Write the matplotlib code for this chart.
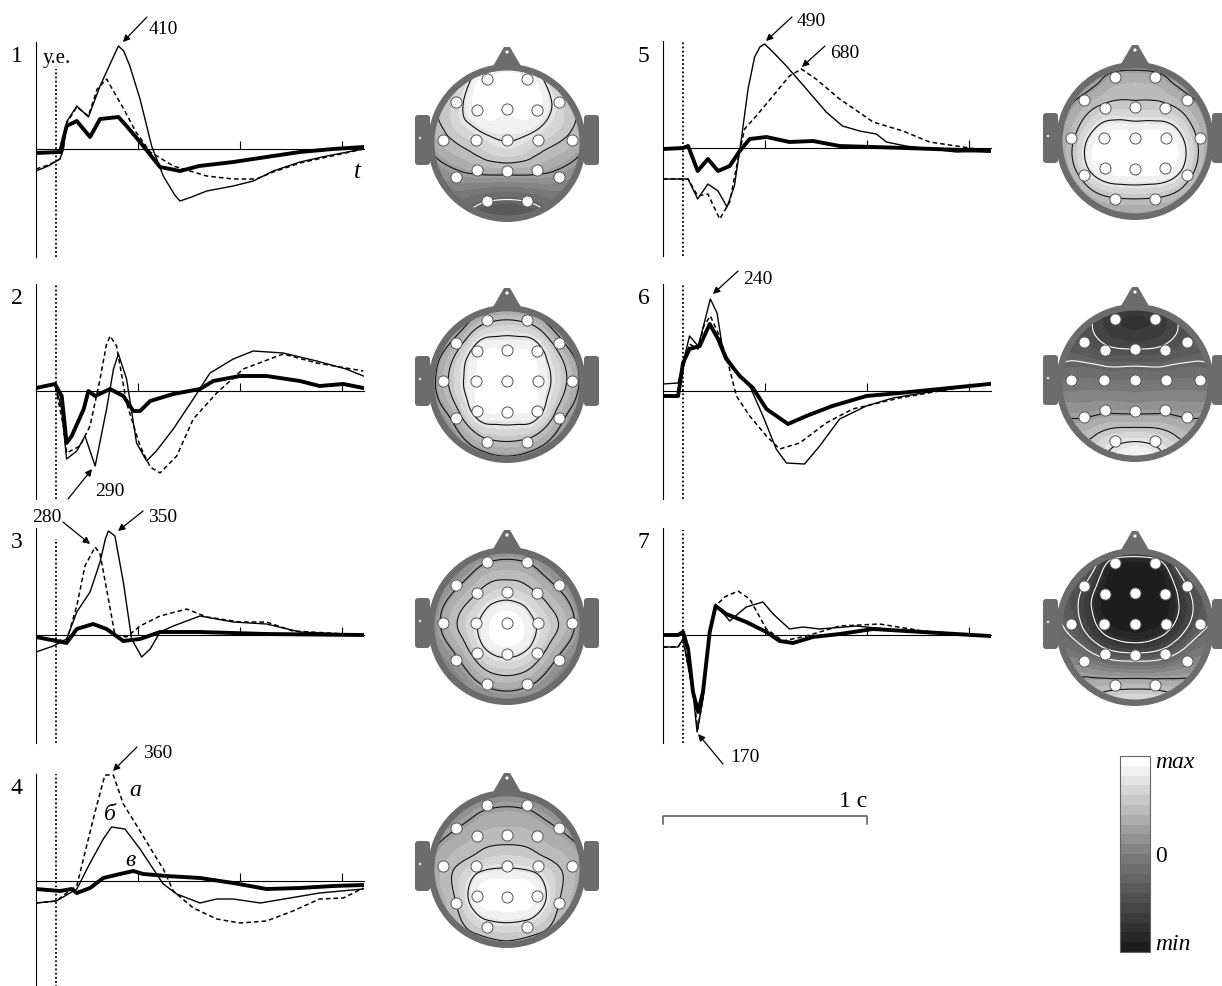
import numpy as np
import matplotlib
matplotlib.use("Agg")
import matplotlib.pyplot as plt
import matplotlib.tri as mtri
from matplotlib.colors import LinearSegmentedColormap
from matplotlib.cm import ScalarMappable
from matplotlib.colors import Normalize
from matplotlib.patches import Circle, FancyBboxPatch, Polygon

plt.rcParams['font.family'] = ['Liberation Serif', 'DejaVu Serif']

# ---- ERP curves: (time, s ; amplitude, arbitrary units) ----
p1_solid = [(0, -2.2), (0.06, -1.7), (0.118, -1.0), (0.134, 0), (0.15, 2.7), (0.2, 4.3), (0.257, 3.2),
            (0.314, 6.3), (0.37, 8.8), (0.404, 10.3), (0.43, 9.8), (0.46, 8.3), (0.51, 5.0), (0.567, 0.3),
            (0.624, -2.7), (0.68, -4.6), (0.706, -5.2), (0.763, -4.8), (0.837, -4.2), (0.967, -3.7),
            (1.065, -3.2), (1.163, -2.2), (1.294, -1.3), (1.425, -0.7), (1.605, 0)]
p1_dashed = [(0, -2.0), (0.06, -1.6), (0.118, -1.0), (0.134, 0), (0.15, 2.6), (0.2, 4.2), (0.257, 3.3),
             (0.3, 6.0), (0.346, 7.0), (0.43, 4.0), (0.49, 1.7), (0.56, -0.3), (0.673, -1.7),
             (0.837, -2.7), (0.967, -3.0), (1.08, -3.0), (1.163, -2.3), (1.294, -1.4), (1.45, -0.7),
             (1.605, 0)]
p1_thick = [(0, -0.4), (0.118, -0.3), (0.15, 2.3), (0.2, 2.8), (0.265, 1.2), (0.314, 3.0), (0.404, 3.2),
            (0.444, 2.3), (0.51, 0.7), (0.608, -1.8), (0.706, -2.2), (0.8, -1.7), (0.967, -1.3),
            (1.13, -0.8), (1.294, -0.3), (1.457, 0), (1.605, 0.2)]

p2_solid = [(0, 0.3), (0.093, 0.7), (0.126, -1.8), (0.15, -6.8), (0.2, -6.0), (0.24, -4.5), (0.29, -7.5),
            (0.346, -1.8), (0.38, 2.2), (0.404, 3.7), (0.444, 1.2), (0.493, -5.2), (0.542, -7.0),
            (0.59, -6.0), (0.673, -3.8), (0.771, -0.8), (0.853, 1.8), (0.967, 3.2), (1.065, 4.0),
            (1.212, 3.8), (1.376, 3.0), (1.52, 2.2), (1.605, 1.5)]
p2_dashed = [(0, 0.3), (0.093, 0.7), (0.134, -3.5), (0.15, -6.2), (0.216, -5.5), (0.265, -3.5),
             (0.314, 1.2), (0.345, 4.6), (0.363, 5.5), (0.395, 4.5), (0.444, -1.2), (0.51, -5.5),
             (0.56, -7.6), (0.608, -8.2), (0.69, -6.5), (0.771, -2.8), (0.886, -0.2), (1.016, 2.2),
             (1.212, 3.7), (1.376, 2.8), (1.52, 2.3), (1.605, 2.0)]
p2_thick = [(0, 0.3), (0.093, 0.7), (0.126, -0.5), (0.15, -5.2), (0.175, -4.5), (0.234, -1.8), (0.257, 0),
            (0.29, -0.5), (0.363, 0.2), (0.428, -0.5), (0.477, -2.0), (0.51, -2.0), (0.56, -1.0),
            (0.673, -0.3), (0.804, 0.2), (0.869, 1.0), (1.0, 1.5), (1.13, 1.5), (1.294, 1.0),
            (1.39, 0.5), (1.507, 0.7), (1.605, 0.3)]

p3_solid = [(0, -1.7), (0.085, -1.1), (0.15, -0.4), (0.2, 2.3), (0.265, 4.3), (0.314, 7.3), (0.34, 9.6),
            (0.355, 10.4), (0.387, 9.9), (0.428, 5.3), (0.469, -0.4), (0.518, -2.2), (0.56, -1.4),
            (0.608, 0.3), (0.673, 0.9), (0.804, 1.9), (0.967, 1.3), (1.13, 1.1), (1.294, 0.3),
            (1.605, 0)]
p3_dashed = [(0, -0.2), (0.15, -0.6), (0.2, 2.9), (0.24, 6.9), (0.29, 8.8), (0.314, 8.1), (0.355, 3.6),
             (0.387, 0), (0.444, -0.2), (0.51, 0.9), (0.608, 1.9), (0.739, 2.6), (0.837, 1.8),
             (1.0, 1.3), (1.13, 1.3), (1.26, 0.4), (1.605, 0)]
p3_thick = [(0, -0.2), (0.15, -0.8), (0.2, 0.6), (0.28, 1.1), (0.346, 0.6), (0.428, -0.6), (0.51, -0.4),
            (0.608, 0.3), (0.804, 0.3), (1.13, 0.1), (1.605, 0)]

p4_dashed = [(0, -2.2), (0.1, -2.0), (0.15, -1.2), (0.2, -0.5), (0.248, 3.5), (0.297, 7.5), (0.338, 10.6),
             (0.379, 10.6), (0.428, 7.7), (0.51, 5.0), (0.575, 2.8), (0.624, 1.2), (0.673, -1.0),
             (0.771, -2.7), (0.886, -3.8), (1.0, -4.2), (1.13, -4.0), (1.26, -3.0), (1.39, -1.8),
             (1.507, -1.7), (1.605, -0.7)]
p4_solid = [(0, -2.2), (0.1, -2.0), (0.2, -0.8), (0.265, 1.8), (0.33, 4.2), (0.37, 5.4), (0.436, 5.2),
            (0.51, 3.2), (0.575, 1.2), (0.624, -0.3), (0.69, -1.3), (0.804, -2.2), (0.886, -1.8),
            (0.967, -1.8), (1.1, -2.2), (1.245, -1.7), (1.39, -1.2), (1.605, -0.8)]
p4_thick = [(0, -0.8), (0.118, -1.0), (0.175, -0.8), (0.2, -1.2), (0.265, -0.7), (0.33, 0.3), (0.412, 0.7),
            (0.477, 1.0), (0.526, 0.7), (0.64, 0.5), (0.804, 0.3), (0.967, -0.2), (1.13, -0.8),
            (1.294, -0.7), (1.457, -0.5), (1.605, -0.4)]

p5_solid = [(0, -3.1), (0.123, -3.1), (0.17, -5.1), (0.22, -3.6), (0.27, -4.3), (0.314, -5.9), (0.35, -3.8),
            (0.384, 0.9), (0.417, 5.9), (0.449, 9.1), (0.475, 10.1), (0.498, 10.4), (0.539, 9.6),
            (0.605, 8.2), (0.703, 5.9), (0.8, 3.6), (0.88, 2.2), (0.964, 1.7), (1.046, 1.4),
            (1.095, 0.6), (1.19, 0.2), (1.438, -0.4), (1.6, -0.3)]
p5_dashed = [(0, -3.1), (0.123, -3.1), (0.17, -4.8), (0.22, -4.6), (0.278, -7.1), (0.327, -5.4),
             (0.368, -1.1), (0.4, 1.9), (0.457, 3.2), (0.539, 5.2), (0.62, 7.2), (0.678, 7.9),
             (0.75, 6.9), (0.866, 4.9), (1.03, 2.6), (1.176, 1.7), (1.307, 0.6), (1.438, 0.2),
             (1.6, -0.3)]
p5_thick = [(0, -0.1), (0.098, 0), (0.123, 0.2), (0.17, -2.3), (0.22, -1.1), (0.27, -2.3), (0.327, -1.8),
            (0.376, -0.3), (0.425, 0.9), (0.507, 1.1), (0.62, 0.6), (0.735, 0.7), (0.866, 0.2),
            (1.19, 0), (1.6, -0.3)]

p6_solid = [(0, 0.7), (0.074, 0.8), (0.098, 2.8), (0.13, 5.5), (0.172, 4.5), (0.196, 6.3), (0.232, 9.2),
            (0.265, 7.8), (0.294, 4.0), (0.36, 2.0), (0.425, 0.5), (0.49, -2.5), (0.555, -5.8),
            (0.605, -7.2), (0.694, -7.3), (0.768, -5.5), (0.866, -2.8), (0.997, -1.5), (1.127, -0.7),
            (1.274, -0.2), (1.438, 0.3), (1.6, 0.7)]
p6_dashed = [(0, -0.5), (0.074, -0.5), (0.098, 2.2), (0.13, 4.7), (0.172, 4.2), (0.2, 6.5), (0.232, 7.5),
             (0.27, 5.8), (0.31, 3.5), (0.36, -0.5), (0.425, -2.5), (0.507, -4.5), (0.572, -5.8),
             (0.67, -5.2), (0.8, -3.2), (0.93, -1.8), (1.16, -0.7), (1.438, 0.3), (1.6, 0.7)]
p6_thick = [(0, -0.5), (0.074, -0.5), (0.098, 2.8), (0.13, 4.2), (0.18, 4.5), (0.229, 6.7), (0.27, 5.2),
            (0.31, 3.2), (0.376, 1.5), (0.441, 0.3), (0.507, -1.8), (0.613, -3.3), (0.703, -2.5),
            (0.83, -1.5), (0.997, -0.5), (1.16, -0.2), (1.356, 0.2), (1.6, 0.7)]

p7_solid = [(0, -1.2), (0.074, -1.2), (0.098, -0.4), (0.147, -5.7), (0.167, -9.7), (0.196, -6.4),
            (0.229, 0.3), (0.258, 3.1), (0.327, 1.4), (0.408, 2.8), (0.49, 3.3), (0.54, 2.1), (0.62, 0.6),
            (0.686, 0.8), (0.768, 0.6), (0.948, 0.9), (1.19, 0.4), (1.6, -0.1)]
p7_dashed = [(0, -1.2), (0.074, -1.2), (0.098, -0.4), (0.147, -5.7), (0.17, -9.4), (0.196, -6.4),
             (0.229, 0.3), (0.258, 2.9), (0.302, 3.8), (0.368, 4.4), (0.425, 3.6), (0.507, 0.6),
             (0.588, -0.6), (0.703, -0.1), (0.866, 0.9), (1.062, 1.1), (1.274, 0.4), (1.6, -0.1)]
p7_thick = [(0, 0), (0.074, 0), (0.098, 0.3), (0.123, -1.4), (0.147, -5.7), (0.172, -7.7), (0.196, -5.7),
            (0.229, 0.3), (0.258, 2.9), (0.31, 2.1), (0.408, 1.3), (0.507, 0.3), (0.572, -0.6),
            (0.637, -0.8), (0.735, -0.2), (0.866, 0.1), (1.03, 0.6), (1.19, 0.4), (1.6, -0.1)]

# peak labels: (text, text pos, arrow tail, arrow tip) in data units of each panel
p1_marks = [("410", (0.623, 12.0), (0.544, 13.2), (0.426, 10.7))]
p2_marks = [("290", (0.363, -10.0), (0.157, -10.8), (0.275, -7.8))]
p3_marks = [("280", (0.054, 11.8), (0.132, 11.3), (0.265, 9.1)),
            ("350", (0.623, 11.8), (0.525, 12.4), (0.402, 10.4))]
p4_marks = [("360", (0.598, 12.9), (0.495, 13.4), (0.377, 11.0))]
p5_marks = [("490", (0.725, 12.7), (0.632, 13.1), (0.505, 10.7)),
            ("680", (0.892, 9.5), (0.794, 10.2), (0.681, 8.1))]
p6_marks = [("240", (0.466, 11.3), (0.368, 12.0), (0.245, 9.7))]
p7_marks = [("170", (0.402, -12.2), (0.294, -12.9), (0.172, -9.9))]

# ---- topographic maps: 19 electrodes (10-20) ----
electrodes = ["Fp1", "Fp2", "F7", "F3", "Fz", "F4", "F8", "T3", "C3", "Cz", "C4", "T4",
              "T5", "P3", "Pz", "P4", "T6", "O1", "O2"]
head1 = [0.98, 0.98, 0.82, 0.96, 0.97, 0.96, 0.82, 0.72, 0.82, 0.88, 0.82, 0.72,
         0.58, 0.66, 0.67, 0.66, 0.58, 0.38, 0.38]
head2 = [0.72, 0.72, 0.68, 0.92, 0.95, 0.92, 0.68, 0.7, 0.95, 1.0, 0.95, 0.7,
         0.68, 0.92, 0.95, 0.92, 0.68, 0.72, 0.72]
head3 = [0.62, 0.62, 0.6, 0.75, 0.82, 0.75, 0.6, 0.65, 0.86, 1.0, 0.86, 0.65,
         0.6, 0.8, 0.9, 0.8, 0.6, 0.65, 0.65]
head4 = [0.6, 0.6, 0.62, 0.7, 0.72, 0.7, 0.62, 0.7, 0.82, 0.86, 0.82, 0.7,
         0.75, 0.95, 1.0, 0.95, 0.75, 0.82, 0.82]
head5 = [0.66, 0.66, 0.66, 0.78, 0.78, 0.78, 0.66, 0.72, 0.98, 1.0, 0.98, 0.72,
         0.8, 0.98, 1.0, 0.98, 0.8, 0.74, 0.74]
head6 = [0.16, 0.16, 0.3, 0.28, 0.25, 0.28, 0.3, 0.45, 0.45, 0.45, 0.45, 0.45,
         0.62, 0.6, 0.6, 0.6, 0.62, 0.85, 0.85]
head7 = [0.07, 0.07, 0.25, 0.02, 0.01, 0.02, 0.25, 0.33, 0.07, 0.02, 0.07, 0.33,
         0.5, 0.32, 0.28, 0.32, 0.5, 0.7, 0.7]
# values on the scalp rim, clockwise from the nose
rim1 = [0.85, 0.82, 0.75, 0.65, 0.52, 0.38, 0.3, 0.38, 0.52, 0.65, 0.75, 0.82]
rim2 = [0.58, 0.56, 0.55, 0.55, 0.55, 0.56, 0.58, 0.56, 0.55, 0.55, 0.55, 0.56]
rim3 = [0.5, 0.5, 0.5, 0.5, 0.5, 0.5, 0.5, 0.5, 0.5, 0.5, 0.5, 0.5]
rim4 = [0.5, 0.52, 0.58, 0.64, 0.7, 0.72, 0.72, 0.72, 0.7, 0.64, 0.58, 0.52]
rim5 = [0.55, 0.56, 0.6, 0.62, 0.62, 0.62, 0.6, 0.62, 0.62, 0.62, 0.6, 0.56]
rim6 = [0.2, 0.24, 0.32, 0.45, 0.65, 0.82, 0.92, 0.82, 0.65, 0.45, 0.32, 0.24]
rim7 = [0.28, 0.3, 0.32, 0.4, 0.55, 0.75, 0.88, 0.75, 0.55, 0.4, 0.32, 0.3]

# electrode layout on the head drawing (px from head centre, y up)
elec_x = [-20, 20, -51, -30, 0, 30, 52, -64, -31, 0, 31, 65, -51, -30, 0, 30, 52, -20, 20]
elec_y = [64, 64, 41, 33, 34, 33, 41, 3, 3, 3, 3, 3, -34, -27, -28, -27, -34, -58, -58]

W, H = 1222, 987
fig = plt.figure(figsize=(W / 100, H / 100), dpi=100)


def px_axes(x, y, w, h):
    return fig.add_axes([x / W, 1 - (y + h) / H, w / W, h / H])


cmap = LinearSegmentedColormap.from_list("eeg", ["#1d1d1d", "#7d7d7d", "#ffffff"], N=20)
fill_levels = np.linspace(0, 1, 21)
RING = "#6c6c6c"


def erp_panel(ax_x, zero_y, num, solid, dashed, thick, marks, dot_top):
    ax = px_axes(ax_x, zero_y - 107, 328, 215)
    ax.set_xlim(0, 1.608)
    ax.set_ylim(-10.8, 10.7)
    ax.patch.set_alpha(0)
    for s in ["top", "right"]:
        ax.spines[s].set_visible(False)
    ax.spines["bottom"].set_position(("data", 0))
    ax.spines["bottom"].set_linewidth(0.8)
    ax.spines["left"].set_linewidth(0.8)
    ax.set_xticks([0.5, 1.0, 1.5])
    ax.set_xticklabels([])
    ax.set_yticks([])
    ax.tick_params(axis="x", direction="in", length=6, width=0.8)
    ax.vlines(0.098, -10.8, dot_top, colors="k", linestyles=(0, (1, 1.3)), lw=1.3)

    t, a = zip(*solid)
    ax.plot(t, a, color="k", lw=1.0)
    t, a = zip(*dashed)
    ax.plot(t, a, color="k", lw=1.1, dashes=(3, 2))
    t, a = zip(*thick)
    ax.plot(t, a, color="k", lw=2.8)

    for txt, pos, tail, tip in marks:
        ax.annotate("", xy=tip, xytext=tail, annotation_clip=False,
                    arrowprops=dict(arrowstyle="-|>", color="k", lw=0.9,
                                    mutation_scale=10, shrinkA=0, shrinkB=0))
        ax.text(pos[0], pos[1], txt, ha="center", va="center", fontsize=14, clip_on=False)
    ax.text(-0.095, 9.3, num, ha="center", va="center", fontsize=17, clip_on=False)
    return ax


def head_map(cx, cy, vals, rim):
    ax = px_axes(cx - 100, cy - 105, 200, 210)
    ax.set_xlim(-100, 100)
    ax.set_ylim(-105, 105)
    ax.axis("off")
    ax.add_patch(FancyBboxPatch((-92, -22), 15, 50, boxstyle="round,pad=0,rounding_size=3",
                                fc=RING, ec="none"))
    ax.add_patch(FancyBboxPatch((77, -22), 15, 50, boxstyle="round,pad=0,rounding_size=3",
                                fc=RING, ec="none"))
    ax.add_patch(Polygon([(-18, 70), (-3, 96), (3, 96), (18, 70)], closed=True, fc=RING, ec="none"))
    ax.add_patch(Circle((0, 91), 1.6, fc="white", ec="none", zorder=3))
    ax.add_patch(Circle((-87, 5), 1.3, fc="#dddddd", ec="none", zorder=3))
    ax.add_patch(Circle((0, 0), 79, fc=RING, ec="none"))

    ang = np.deg2rad(np.arange(12) * 30)
    px = np.concatenate([elec_x, 78 * np.sin(ang)])
    py = np.concatenate([elec_y, 78 * np.cos(ang)])
    z = np.concatenate([vals, rim])
    tri = mtri.Triangulation(px, py)
    rtri, rz = mtri.UniformTriRefiner(tri).refine_field(z, subdiv=3)
    clip = Circle((0, 0), 72.5, transform=ax.transData)
    cf = ax.tricontourf(rtri, rz, levels=fill_levels, cmap=cmap, vmin=0, vmax=1, extend="both")
    cf.set_clip_path(clip)
    cw = ax.tricontour(rtri, rz, levels=[0.125, 0.25, 0.375], colors="white", linewidths=0.8)
    cw.set_clip_path(clip)
    cb = ax.tricontour(rtri, rz, levels=[0.625, 0.75, 0.875], colors="#111111", linewidths=0.8)
    cb.set_clip_path(clip)
    ax.scatter(elec_x, elec_y, s=64, facecolor="white", edgecolor="#555555", linewidths=0.7, zorder=5)
    return ax


ax1 = erp_panel(36, 150, "1", p1_solid, p1_dashed, p1_thick, p1_marks, 8.0)
ax1.text(0.034, 9.2, "у.е.", ha="left", va="center", fontsize=15)
ax1.text(1.574, -2.2, "t", ha="center", va="center", fontsize=18, style="italic")
erp_panel(36, 392, "2", p2_solid, p2_dashed, p2_thick, p2_marks, 10.7)
erp_panel(36, 636, "3", p3_solid, p3_dashed, p3_thick, p3_marks, 9.6)
ax4 = erp_panel(36, 882, "4", p4_solid, p4_dashed, p4_thick, p4_marks, 10.7)
ax4.text(0.485, 9.2, "а", ha="center", va="center", fontsize=17, style="italic")
ax4.text(0.363, 6.7, "б", ha="center", va="center", fontsize=17, style="italic")
ax4.text(0.461, 2.2, "в", ha="center", va="center", fontsize=17, style="italic")
erp_panel(663, 149, "5", p5_solid, p5_dashed, p5_thick, p5_marks, 10.7)
erp_panel(663, 392, "6", p6_solid, p6_dashed, p6_thick, p6_marks, 10.7)
ax7 = erp_panel(663, 636, "7", p7_solid, p7_dashed, p7_thick, p7_marks, 10.5)

# 1 s scale bar
ax7.plot([0, 0, 1, 1], [-18.9, -18.1, -18.1, -18.9], color="#555555", lw=1.1, clip_on=False)
ax7.text(1.0, -16.6, "1 с", ha="right", va="center", fontsize=17, clip_on=False)

head_map(507, 144, head1, rim1)
head_map(507, 385, head2, rim2)
head_map(507, 627, head3, rim3)
head_map(507, 870, head4, rim4)
head_map(1135, 142, head5, rim5)
head_map(1135, 384, head6, rim6)
head_map(1135, 628, head7, rim7)

# colour scale
cax = px_axes(1120, 757, 30, 196)
cbar = fig.colorbar(ScalarMappable(norm=Normalize(0, 1), cmap=cmap), cax=cax, ticks=[])
cbar.outline.set_edgecolor("#666666")
cbar.outline.set_linewidth(0.8)
fig.text(1155 / W, 1 - 762 / H, "max", ha="left", va="center", fontsize=17, style="italic")
fig.text(1155 / W, 1 - 857 / H, "0", ha="left", va="center", fontsize=17)
fig.text(1155 / W, 1 - 945 / H, "min", ha="left", va="center", fontsize=17, style="italic")

fig.savefig("out.png", dpi=100)
